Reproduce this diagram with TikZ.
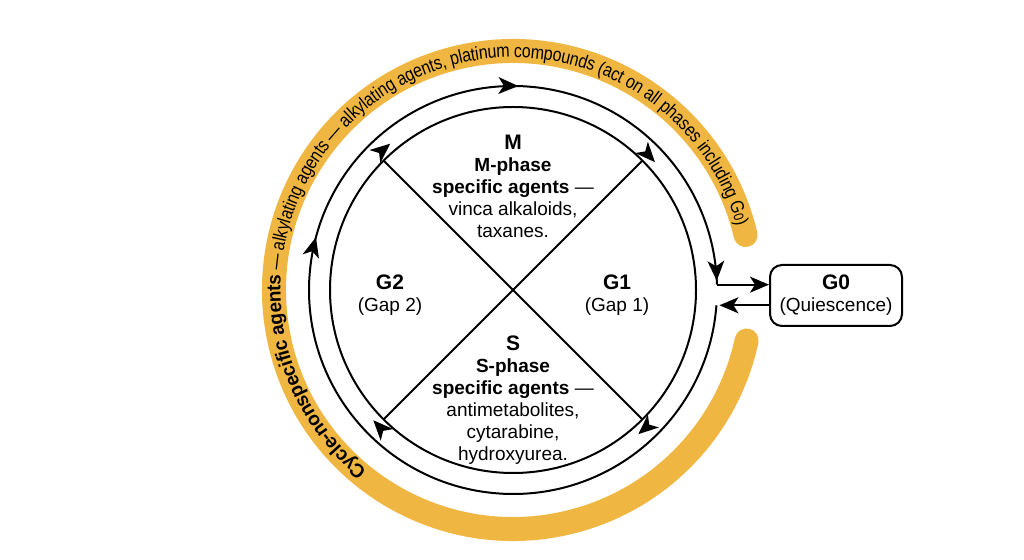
\documentclass[tikz,border=0pt]{standalone}
\usepackage{fontspec}
\setmainfont{Liberation Sans}
\newfontfamily\bandreg[FakeStretch=0.84]{Liberation Sans}
\newfontfamily\bandbold[FakeStretch=0.97]{Liberation Sans}
\usetikzlibrary{arrows.meta,decorations.text,calc}
\definecolor{bandorange}{RGB}{240,182,66}
% clockwise arrowhead with its tip on radius #1 at angle #2
\newcommand{\cwtip}[2]{%
  \begin{scope}[shift={($(c)+(#2:#1)$)}, rotate={#2-90}]
    \fill[black] (0,0) -- (-20,8.5) -- (-14.5,0) -- (-20,-8.5) -- cycle;
  \end{scope}}
\begin{document}
\begin{tikzpicture}[x=1pt,y=1pt,
  ln/.style={line width=2pt, black},
  tipln/.style={line width=2pt, black, -{Stealth[length=19pt,width=16pt,inset=5pt]}},
  band/.style={bandorange, line width=24pt, line cap=round},
  blockt/.style={align=center, inner sep=0pt, anchor=north, font=\fontsize{19}{22}\selectfont},
  qbox/.style={draw, line width=2pt, rounded corners=12pt, minimum width=132pt, minimum height=61pt, align=center, inner sep=0pt, font=\fontsize{19}{22}\selectfont}]
\useasboundingbox (0,0) rectangle (1024,559);
\fill[white] (0,0) rectangle (1024,559);
\coordinate (c) at (513,269);

% orange band with curved text
\draw[band] ($(c)+(13.3:239)$) arc[start angle=13.3, end angle=347.8, radius=239];
\path[decorate, decoration={text along path, text align=left, raise=-6.5pt,
  text={|\bandbold\bfseries\fontsize{19.5}{19.5}\selectfont|Cycle-nonspecific agents|\bandreg\fontsize{19}{19}\selectfont| — alkylating agents — alkylating agents, platinum compounds (act on all phases including G|\bandreg\fontsize{14}{14}\selectfont|0|\bandreg\fontsize{19}{19}\selectfont|)}}]
  ($(c)+(231:239)$) arc[start angle=231, end angle=-10, radius=239];

% inner circle and X
\draw[ln] (c) circle[radius=183];
\coordinate (xa) at ($(c)+(45:183)$);
\coordinate (xb) at ($(c)+(225:183)$);
\coordinate (xc) at ($(c)+(135:183)$);
\coordinate (xd) at ($(c)+(315:183)$);
\draw[ln] (xa) -- (xb);
\draw[ln] (xc) -- (xd);

% outer cycle arc
\coordinate (j2) at ($(c)+(-4.3:204)$);
\draw[ln] (j2) arc[start angle=-4.3, end angle=-358.5, radius=204] coordinate (j1);

% G0 box
\node[qbox] (g0) at (836,263.5) {{\fontsize{21}{22}\selectfont\bfseries G0}\\(Quiescence)};
\draw[tipln] (j1) -- (j1 -| g0.west);
\draw[tipln] (g0.west |- j2) -- ($(j2)+(3,0)$);

% direction arrowheads
\cwtip{204}{88.5}
\cwtip{204}{165}
\cwtip{204}{2.6}
\cwtip{191}{42}
\cwtip{191}{130}
\cwtip{191}{223}
\cwtip{191}{311}

% phase texts
\node[blockt] (mtxt) at (513,424.5) {{\fontsize{21}{22}\selectfont\bfseries M}\\\textbf{M-phase}\\\textbf{specific agents} —\\vinca alkaloids,\\taxanes.};
\node[blockt] (stxt) at (513,223.5) {{\fontsize{21}{22}\selectfont\bfseries S}\\\textbf{S-phase}\\\textbf{specific agents} —\\antimetabolites,\\cytarabine,\\hydroxyurea.};
\node[blockt] (g2txt) at (390,284.5) {{\fontsize{21}{22}\selectfont\bfseries G2}\\(Gap 2)};
\node[blockt] (g1txt) at (617,284.5) {{\fontsize{21}{22}\selectfont\bfseries G1}\\(Gap 1)};
\end{tikzpicture}
\end{document}
